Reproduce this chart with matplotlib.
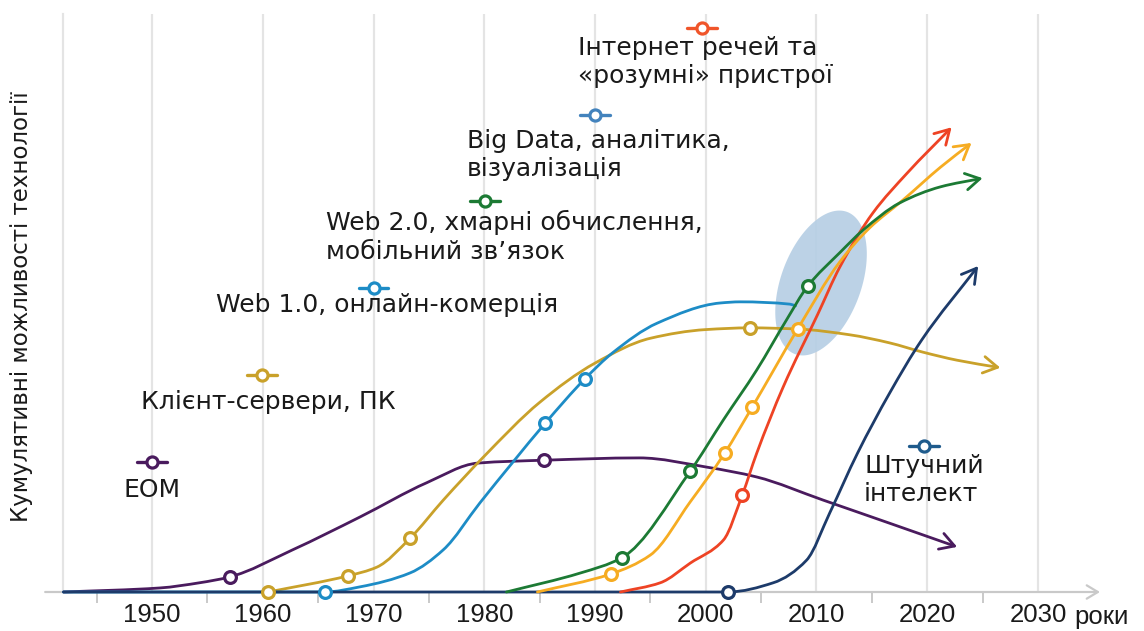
import numpy as np
import matplotlib
matplotlib.use("Agg")
import matplotlib.pyplot as plt
from matplotlib.path import Path
from matplotlib.patches import FancyArrowPatch, Polygon

plt.rcParams['font.family'] = ['Liberation Sans', 'DejaVu Sans']
LABEL_FONT = ['DejaVu Sans']

# ---- data: year -> cumulative capability index (0..100) ----
eom_years = [1942.0, 1950.7, 1954.3, 1957.0, 1962.7, 1968.8, 1974.8, 1979.4, 1985.4,
             1994.0, 2000.1, 2004.6, 2010.6, 2016.6, 2022.7]
eom_vals = [0, 0.7, 1.6, 2.6, 7.3, 13.0, 18.9, 22.3, 22.8, 23.2, 21.6, 19.9, 15.9, 11.9, 7.8]
eom_marks = [3, 8]

cs_years = [1960.5, 1967.7, 1970.3, 1973.3, 1976.3, 1980.0, 1985.0, 1990.0, 1995.0,
            2000.0, 2004.0, 2008.3, 2013.0, 2016.6, 2019.6, 2022.7, 2026.6]
cs_vals = [0, 2.8, 4.3, 9.3, 15.9, 23.5, 32.8, 39.6, 43.9, 45.4, 45.7, 45.5, 44.5,
           43.1, 41.5, 40.1, 38.8]
cs_marks = [0, 1, 3, 10]

web1_years = [1942.0, 1965.6, 1968.8, 1973.3, 1976.3, 1979.6, 1982.6, 1985.5, 1989.1,
              1991.6, 1995.6, 2001.3, 2003.1, 2007.6, 2008.1]
web1_vals = [0, 0, 0.9, 3.3, 7.3, 15.4, 22.5, 29.2, 36.9, 41.4, 46.5, 50.0, 50.2, 49.8, 49.5]
web1_marks = [1, 7, 8]

web2_years = [1982.0, 1988.7, 1992.4, 1998.6, 2001.6, 2004.6, 2007.3, 2009.2, 2012.1,
              2014.2, 2017.5, 2021.2, 2025.0]
web2_vals = [0, 3.3, 5.9, 20.9, 29.8, 38.4, 47.1, 52.9, 58.7, 62.6, 67.3, 70.1, 71.6]
web2_marks = [2, 3, 7]

bd_years = [1984.8, 1991.4, 1995.0, 1998.6, 2001.7, 2004.2, 2008.3, 2012.1,
            2014.8, 2017.8, 2021.2, 2024.0]
bd_vals = [0, 3.1, 6.4, 15.6, 24.0, 32.0, 45.5, 57.1, 63.0, 67.8, 73.5, 77.7]
bd_marks = [1, 4, 5, 6]

iot_years = [1992.3, 1995.9, 1998.6, 2001.6, 2003.3, 2004.6, 2007.0, 2010.1, 2012.1,
             2015.1, 2018.2, 2022.2]
iot_vals = [0, 1.6, 5.0, 9.0, 16.8, 24.0, 35.5, 48.0, 56.2, 65.6, 72.5, 80.4]
iot_marks = [4]

ai_years = [1942.0, 2002.0, 2006.1, 2009.1, 2011.2, 2013.7, 2016.6, 2019.5, 2024.6]
ai_vals = [0, 0, 1.6, 5.5, 13.7, 24.0, 34.4, 43.6, 56.4]
ai_marks = [1]

labels = ["ЕОМ",
          "Клієнт-сервери, ПК",
          "Web 1.0, онлайн-комерція",
          "Web 2.0, хмарні обчислення,\nмобільний зв’язок",
          "Big Data, аналітика,\nвізуалізація",
          "Інтернет речей та\n«розумні» пристрої",
          "Штучний\nінтелект"]

tick_years = [1950, 1960, 1970, 1980, 1990, 2000, 2010, 2020, 2030]
minor_years = [1945, 1955, 1965, 1975, 1985, 1995, 2005, 2015, 2025]
x_unit = "роки"
y_title = "Кумулятивні можливості технології"

# ---- styles ----
PURPLE = "#4a1b5e"
GOLD = "#c9a12a"
BLUE = "#1d8cc6"
GREEN = "#1c7a34"
AMBER = "#f6ac22"
RED = "#ee4324"
NAVY = "#1d3b6a"
GRID = "#e4e4e4"
AXIS = "#c9c9c9"
INK = "#1a1a1a"


def pchip_slopes(x, y):
    x = np.asarray(x, float)
    y = np.asarray(y, float)
    h = np.diff(x)
    d = np.diff(y) / h
    m = np.zeros_like(x)
    for k in range(1, len(x) - 1):
        if d[k - 1] * d[k] <= 0:
            m[k] = 0.0
        else:
            w1 = 2 * h[k] + h[k - 1]
            w2 = h[k] + 2 * h[k - 1]
            m[k] = (w1 + w2) / (w1 / d[k - 1] + w2 / d[k])
    m[0] = d[0]
    m[-1] = d[-1]
    return m


def smooth_path(x, y):
    """Monotone cubic (PCHIP) curve through the points, as Bezier segments."""
    x = np.asarray(x, float)
    y = np.asarray(y, float)
    m = pchip_slopes(x, y)
    verts = [(x[0], y[0])]
    codes = [Path.MOVETO]
    for k in range(len(x) - 1):
        h = x[k + 1] - x[k]
        verts += [(x[k] + h / 3, y[k] + m[k] * h / 3),
                  (x[k + 1] - h / 3, y[k + 1] - m[k + 1] * h / 3),
                  (x[k + 1], y[k + 1])]
        codes += [Path.CURVE4] * 3
    return Path(verts, codes)


fig = plt.figure(figsize=(11.44, 6.31), dpi=100)
ax = fig.add_axes([63 / 1144, 39 / 631, 1037 / 1144, 578 / 631])
x0, x1 = 1941.96, 2035.6
ax.set_xlim(x0, x1)
ax.set_ylim(0, 100)

for s in ("top", "right", "bottom"):
    ax.spines[s].set_visible(False)
ax.spines["left"].set_color(GRID)
ax.spines["left"].set_linewidth(1.6)
ax.set_yticks([])
ax.set_xticks(tick_years)
ax.set_xticklabels([str(t) for t in tick_years], fontsize=18.5, color=INK)
ax.set_xticks(minor_years, minor=True)
ax.tick_params(axis="x", which="major", length=0, pad=8)
ax.tick_params(axis="x", which="minor", length=8, width=1.4, color=AXIS, direction="out")
ax.grid(axis="x", which="major", color=GRID, lw=1.6, zorder=0)
ax.set_axisbelow(True)

# x axis with arrow
ax.add_patch(FancyArrowPatch((1940.35, 0), (x1, 0), arrowstyle="->,head_length=0.5,head_width=0.3",
                             mutation_scale=16, color=AXIS, lw=1.6, shrinkA=0, shrinkB=0,
                             clip_on=False, zorder=1))
ax.text(2033.3, -4.3, x_unit, fontsize=18.5, ha="left", va="center", color=INK,
        clip_on=False)

fig.text(22 / 1144, 1 - 307 / 631, y_title, rotation=90, ha="center", va="center",
         fontsize=16.5, color=INK, family=LABEL_FONT)

# highlighted transition zone
t = np.linspace(0, 2 * np.pi, 200)
cx, cy = 2010.41, 53.46
ax_vec = np.array([2.35, 12.3])
bx_vec = np.array([3.4, -2.4])
ell = np.column_stack([cx + np.cos(t) * ax_vec[0] + np.sin(t) * bx_vec[0],
                       cy + np.cos(t) * ax_vec[1] + np.sin(t) * bx_vec[1]])
ax.add_patch(Polygon(ell, closed=True, facecolor="#b5cee4", edgecolor="none", alpha=0.9,
                     zorder=2))

series = [
    (eom_years, eom_vals, eom_marks, PURPLE, True),
    (cs_years, cs_vals, cs_marks, GOLD, True),
    (web1_years, web1_vals, web1_marks, BLUE, False),
    (ai_years, ai_vals, ai_marks, NAVY, True),
    (iot_years, iot_vals, iot_marks, RED, True),
    (bd_years, bd_vals, bd_marks, AMBER, True),
    (web2_years, web2_vals, web2_marks, GREEN, True),
]

for yrs, vals, marks, col, arrow in series:
    style = "->,head_length=0.6,head_width=0.35" if arrow else "-"
    ax.add_patch(FancyArrowPatch(path=smooth_path(yrs, vals), arrowstyle=style,
                                 mutation_scale=17, color=col, lw=2.0, fill=False,
                                 clip_on=False, zorder=3, capstyle="round",
                                 joinstyle="round"))
    ax.plot([yrs[i] for i in marks], [vals[i] for i in marks], "o", ms=8.5, mfc="white",
            mec=col, mew=2.3, zorder=5, clip_on=False)

# label keys: short stroke with an open circle, and the caption underneath
key_colors = [PURPLE, GOLD, BLUE, GREEN, "#4383bd", "#f0552a", "#1f5b8c"]
key_pos = [(1950.0, 22.5), (1959.9, 37.5), (1970.0, 52.6), (1980.1, 67.65),
           (1990.0, 82.5), (1999.7, 97.6), (2019.7, 25.3)]
text_pos = [(1947.4, 17.65), (1949.0, 32.87), (1955.8, 49.65), (1965.7, 61.42),
            (1978.4, 75.6), (1988.5, 91.7), (2014.3, 19.38)]
for lab, col, (kx, ky), (tx, ty) in zip(labels, key_colors, key_pos, text_pos):
    ax.plot([kx - 1.35, kx + 1.35], [ky, ky], color=col, lw=2.4, zorder=6,
            solid_capstyle="round")
    ax.plot([kx], [ky], "o", ms=8, mfc="white", mec=col, mew=2.3, zorder=7)
    ax.text(tx, ty, lab, fontsize=18, ha="left", va="center", color=INK,
            linespacing=1.22, zorder=8, family=LABEL_FONT)

fig.savefig("out.png", dpi=100, facecolor="white")
